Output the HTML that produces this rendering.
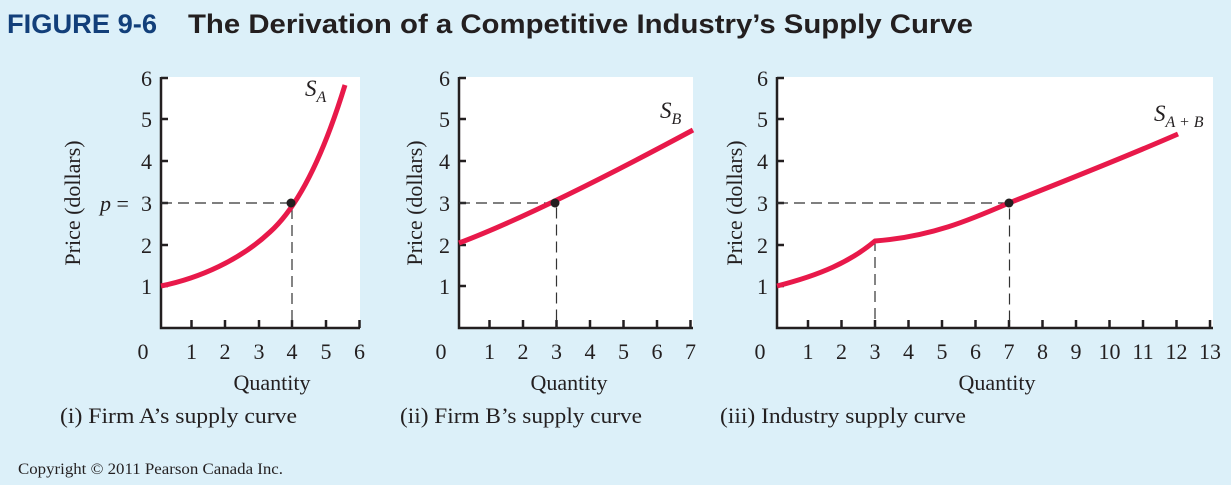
<!DOCTYPE html>
<html><head><style>
body{margin:0;background:#dcf0f9;}
svg{display:block}
</style></head><body>
<svg width="1231" height="485" viewBox="0 0 1231 485" xmlns="http://www.w3.org/2000/svg" font-family="Liberation Serif, serif" fill="#231f20">
<rect width="1231" height="485" fill="#dcf0f9"/>
<text x="7" y="33" font-family="Liberation Sans, sans-serif" font-weight="bold" font-size="27" fill="#123f7a" textLength="150" lengthAdjust="spacingAndGlyphs">FIGURE 9-6</text>
<text x="188" y="33" font-family="Liberation Sans, sans-serif" font-weight="bold" font-size="27" fill="#231f20" textLength="785" lengthAdjust="spacingAndGlyphs">The Derivation of a Competitive Industry’s Supply Curve</text>

<rect x="161" y="77" width="199" height="251" fill="#fff"/>
<rect x="459" y="77" width="234" height="251" fill="#fff"/>
<rect x="777" y="77" width="436" height="251" fill="#fff"/>

<g stroke="#231f20" stroke-width="2.5" fill="none">
<path d="M161,77 V328 H360"/>
<path d="M161,78h7 M161,119h7 M161,161h7 M161,203h7 M161,245h7 M161,286h7"/>
<path d="M191.5,328v-8 M225,328v-8 M259,328v-8 M292,328v-8 M326,328v-8 M359.5,328v-8"/>
<path d="M459,77 V328 H693"/>
<path d="M459,78h7 M459,119h7 M459,161h7 M459,203h7 M459,245h7 M459,286h7"/>
<path d="M489.5,328v-8 M523,328v-8 M556.5,328v-8 M590,328v-8 M623.5,328v-8 M657,328v-8 M690.5,328v-8"/>
<path d="M777,77 V328 H1213"/>
<path d="M777,78h7 M777,119h7 M777,161h7 M777,203h7 M777,245h7 M777,286h7"/>
<path d="M808,328v-8 M841.5,328v-8 M875,328v-8 M908.5,328v-8 M942,328v-8 M975.5,328v-8 M1009,328v-8 M1042.5,328v-8 M1076,328v-8 M1109.5,328v-8 M1143,328v-8 M1176.5,328v-8 M1210,328v-8"/>
</g>

<g stroke="#333" stroke-width="1.2" fill="none" stroke-dasharray="11,6">
<path d="M161,203 H292 V328"/>
<path d="M459,203 H556.5 V328"/>
<path d="M777,203 H1009.5 V328"/>
<path d="M875,240 V328"/>
</g>

<g stroke="#e8194a" stroke-width="5" fill="none" stroke-linecap="butt">
<path d="M161,286 C200,278 240,260 270,232 C300,205 325,150 345,85"/>
<path d="M459,243 C520,220 600,180 693,130"/>
<path d="M777,286 C820,275 850,262 875,241 C930,237 970,220 1009,203 C1080,175 1130,155 1178,134"/>
</g>
<g fill="#231f20">
<circle cx="291" cy="203" r="4.5"/>
<circle cx="555" cy="203" r="4.5"/>
<circle cx="1009" cy="203" r="4.5"/>
</g>

<g font-size="22" text-anchor="end">
<text x="152" y="86">6</text><text x="152" y="127">5</text><text x="152" y="169">4</text><text x="152" y="211">3</text><text x="152" y="253">2</text><text x="152" y="294">1</text>
<text x="450" y="86">6</text><text x="450" y="127">5</text><text x="450" y="169">4</text><text x="450" y="211">3</text><text x="450" y="253">2</text><text x="450" y="294">1</text>
<text x="768" y="86">6</text><text x="768" y="127">5</text><text x="768" y="169">4</text><text x="768" y="211">3</text><text x="768" y="253">2</text><text x="768" y="294">1</text>
</g>
<text x="100" y="211" font-size="22"><tspan font-style="italic">p</tspan> =</text>

<g font-size="22" text-anchor="middle">
<text x="143" y="359">0</text><text x="191.5" y="359">1</text><text x="225" y="359">2</text><text x="259" y="359">3</text><text x="292" y="359">4</text><text x="326" y="359">5</text><text x="359.5" y="359">6</text>
<text x="441" y="359">0</text><text x="489.5" y="359">1</text><text x="523" y="359">2</text><text x="556.5" y="359">3</text><text x="590" y="359">4</text><text x="623.5" y="359">5</text><text x="657" y="359">6</text><text x="690.5" y="359">7</text>
<text x="760" y="359">0</text><text x="808" y="359">1</text><text x="841.5" y="359">2</text><text x="875" y="359">3</text><text x="908.5" y="359">4</text><text x="942" y="359">5</text><text x="975.5" y="359">6</text><text x="1009" y="359">7</text><text x="1042.5" y="359">8</text><text x="1076" y="359">9</text><text x="1109.5" y="359">10</text><text x="1143" y="359">11</text><text x="1176.5" y="359">12</text><text x="1210" y="359">13</text>
<text x="272" y="390">Quantity</text>
<text x="569" y="390">Quantity</text>
<text x="997" y="390">Quantity</text>
</g>
<g font-size="22" text-anchor="middle">
<text transform="translate(80,203) rotate(-90)">Price (dollars)</text>
<text transform="translate(422,203) rotate(-90)">Price (dollars)</text>
<text transform="translate(742,203) rotate(-90)">Price (dollars)</text>
</g>
<g font-size="23" font-style="italic">
<text x="305" y="96">S<tspan font-size="16" dy="6">A</tspan></text>
<text x="660" y="118">S<tspan font-size="16" dy="6">B</tspan></text>
<text x="1154" y="121">S<tspan font-size="16" dy="6">A + B</tspan></text>
</g>
<g font-size="22">
<text x="60" y="423" textLength="237" lengthAdjust="spacingAndGlyphs">(i) Firm A’s supply curve</text>
<text x="400" y="423" textLength="242" lengthAdjust="spacingAndGlyphs">(ii) Firm B’s supply curve</text>
<text x="720" y="423" textLength="246" lengthAdjust="spacingAndGlyphs">(iii) Industry supply curve</text>
</g>
<text x="18" y="474" font-size="16" textLength="265" lengthAdjust="spacingAndGlyphs">Copyright © 2011 Pearson Canada Inc.</text>
</svg>
</body></html>
